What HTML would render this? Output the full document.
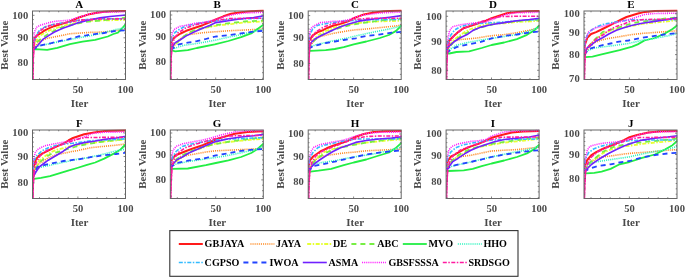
<!DOCTYPE html>
<html><head><meta charset="utf-8"><style>
html,body{margin:0;padding:0;background:#fff;width:685px;height:277px;overflow:hidden}
svg{display:block;filter:blur(0.45px)}
text{font-family:"Liberation Serif",serif;font-weight:bold}
.tl{font-size:10.6px;fill:#4a4a4a}
.lb{font-size:11px;fill:#4a4a4a}
.tt{font-size:11px;fill:#000}
.lg{font-size:10.1px;fill:#000}
</style></head><body>
<svg width="685" height="277" viewBox="0 0 685 277">
<defs>
<clipPath id="cpA"><rect x="32.5" y="9.5" width="93.5" height="70.0"/></clipPath>
<clipPath id="cpB"><rect x="170.3" y="9.5" width="93.5" height="70.0"/></clipPath>
<clipPath id="cpC"><rect x="308.2" y="9.5" width="93.5" height="70.0"/></clipPath>
<clipPath id="cpD"><rect x="446.1" y="9.5" width="93.5" height="70.0"/></clipPath>
<clipPath id="cpE"><rect x="584.0" y="9.5" width="93.5" height="70.0"/></clipPath>
<clipPath id="cpF"><rect x="32.5" y="128.5" width="93.5" height="70.0"/></clipPath>
<clipPath id="cpG"><rect x="170.3" y="128.5" width="93.5" height="70.0"/></clipPath>
<clipPath id="cpH"><rect x="308.2" y="128.5" width="93.5" height="70.0"/></clipPath>
<clipPath id="cpI"><rect x="446.1" y="128.5" width="93.5" height="70.0"/></clipPath>
<clipPath id="cpJ"><rect x="584.0" y="128.5" width="93.5" height="70.0"/></clipPath>
</defs>
<rect width="685" height="277" fill="#fff"/>
<g clip-path="url(#cpA)" fill="none" stroke-linejoin="round">
<polyline points="32.5,50.0 33.5,42.0 35.0,37.5 37.5,35.0 40.0,33.7 44.7,30.4 49.4,28.1 54.0,26.2 58.8,24.8 63.5,23.4 70.0,21.5 78.8,17.5 88.0,14.6 97.0,12.8 104.0,11.8 112.0,11.2 126.0,11.0" stroke="#ff1a1a" stroke-width="2.0"/>
<polyline points="32.5,50.0 35.0,47.0 39.2,41.5 42.9,40.0 46.4,38.5 54.0,37.0 63.5,35.1 70.0,33.7 78.0,33.2 90.0,32.4 104.0,32.0 116.0,30.5 126.0,29.3" stroke="#ff8c26" stroke-width="1.6" stroke-dasharray="1.1 1"/>
<polyline points="32.5,50.0 34.0,46.0 36.0,41.0 38.0,38.0 41.0,35.0 44.7,32.8 49.4,30.4 54.0,29.0 58.8,27.1 63.5,25.7 70.0,24.3 83.5,21.2 100.0,20.3 110.0,20.3 126.0,19.8" stroke="#e6ff33" stroke-width="1.8" stroke-dasharray="4 1.5 1.5 1.5"/>
<polyline points="32.5,50.0 34.0,47.0 37.0,42.0 42.0,38.0 50.0,33.0 60.0,28.0 70.0,25.0 85.0,22.0 100.0,20.5 115.0,19.0 126.0,17.5" stroke="#77ee44" stroke-width="1.8" stroke-dasharray="5 4"/>
<polyline points="32.5,50.0 35.0,49.2 47.2,49.9 57.3,47.9 69.9,44.1 82.5,41.6 95.2,39.8 107.8,36.5 113.4,34.0 117.9,32.7 121.0,29.5 126.0,23.9" stroke="#22ee44" stroke-width="1.8"/>
<polyline points="32.5,50.0 35.0,48.5 37.4,46.2 46.4,44.4 59.1,41.7 77.1,38.1 90.0,35.8 103.0,33.0 116.0,29.5 126.0,27.5" stroke="#33f5c0" stroke-width="1.6" stroke-dasharray="1.1 1"/>
<polyline points="32.5,50.0 33.5,45.0 34.3,41.5 36.4,35.0 40.0,29.5 44.7,27.1 49.4,25.3 54.0,24.3 58.8,23.4 63.5,22.9 70.0,22.0 80.0,20.0 100.0,18.6 126.0,18.8" stroke="#33bbff" stroke-width="1.6" stroke-dasharray="4 1.5 1.5 1.5"/>
<polyline points="32.5,50.0 35.6,48.0 41.0,45.3 50.0,43.5 59.1,41.2 68.1,39.4 78.0,36.5 86.2,35.4 90.6,34.6 104.0,33.0 116.0,30.8 126.0,30.2" stroke="#2244ff" stroke-width="1.8" stroke-dasharray="5 4"/>
<polyline points="32.5,50.0 33.2,49.0 37.5,45.8 42.8,39.4 49.4,35.1 54.0,32.3 58.8,30.0 63.5,28.1 70.0,25.7 78.8,22.6 88.0,20.3 100.0,17.9 110.0,16.5 126.0,15.0" stroke="#7020ff" stroke-width="1.6"/>
<polyline points="32.5,50.0 33.2,46.0 33.8,38.0 34.5,32.0 36.4,27.4 40.0,25.3 44.7,23.9 49.4,22.5 54.0,21.5 58.8,21.0 65.0,20.5 70.0,20.0 80.0,16.8 90.0,14.0 100.0,12.4 126.0,11.6" stroke="#ff22ff" stroke-width="1.6" stroke-dasharray="1.1 1"/>
<polyline points="32.8,80.0 33.2,60.0 34.0,45.0 36.0,37.0 40.0,31.0 45.0,27.5 50.0,25.5 60.0,23.5 70.0,22.0 80.0,20.2 100.0,19.0 126.0,18.8" stroke="#ff1aa0" stroke-width="1.6" stroke-dasharray="4 1.5 1.5 1.5"/>
<polyline points="32.8,80.0 33.2,60.0 34.0,45.0" stroke="#ff1aa0" stroke-width="1.6"/>
</g>
<rect x="32.5" y="11.0" width="93" height="68.5" fill="none" stroke="#666666" stroke-width="1"/>
<path d="M39.5,79.5v-1.3M39.5,11.0v1.3M49.1,79.5v-1.3M49.1,11.0v1.3M58.7,79.5v-1.3M58.7,11.0v1.3M68.3,79.5v-1.3M68.3,11.0v1.3M77.9,79.5v-2.0M77.9,11.0v2.0M87.5,79.5v-1.3M87.5,11.0v1.3M97.1,79.5v-1.3M97.1,11.0v1.3M106.7,79.5v-1.3M106.7,11.0v1.3M116.3,79.5v-1.3M116.3,11.0v1.3M32.5,74.0h1.3M125.5,74.0h-1.3M32.5,68.4h1.3M125.5,68.4h-1.3M32.5,63.0h2.0M125.5,63.0h-2.0M32.5,57.7h1.3M125.5,57.7h-1.3M32.5,52.6h1.3M125.5,52.6h-1.3M32.5,47.5h1.3M125.5,47.5h-1.3M32.5,42.6h1.3M125.5,42.6h-1.3M32.5,37.8h2.0M125.5,37.8h-2.0M32.5,33.1h1.3M125.5,33.1h-1.3M32.5,28.5h1.3M125.5,28.5h-1.3M32.5,24.0h1.3M125.5,24.0h-1.3M32.5,19.6h1.3M125.5,19.6h-1.3M32.5,15.3h2.0M125.5,15.3h-2.0" stroke="#666666" stroke-width="0.8" fill="none"/>
<text x="28.2" y="18.7" text-anchor="end" class="tl">100</text>
<text x="28.2" y="41.4" text-anchor="end" class="tl">90</text>
<text x="28.2" y="66.4" text-anchor="end" class="tl">80</text>
<text x="78.1" y="93.4" text-anchor="middle" class="tl">50</text>
<text x="125.5" y="93.4" text-anchor="middle" class="tl">100</text>
<text x="79.5" y="106.9" text-anchor="middle" class="lb">Iter</text>
<text transform="translate(7.800000000000001,45.2) rotate(-90)" x="0" y="0" text-anchor="middle" class="lb">Best Value</text>
<text x="79.3" y="7.7" text-anchor="middle" class="tt">A</text>
<g clip-path="url(#cpB)" fill="none" stroke-linejoin="round">
<polyline points="170.3,50.0 171.1,42.0 172.8,39.0 175.2,37.0 180.6,33.5 186.2,30.8 195.1,27.7 202.7,25.2 210.2,22.0 215.8,19.5 223.4,16.3 231.0,13.8 241.1,12.3 251.2,11.3 263.8,10.6" stroke="#ff1a1a" stroke-width="2.0"/>
<polyline points="170.3,50.0 174.8,45.0 179.8,39.0 184.2,36.3 188.8,34.6 196.8,33.5 202.7,32.7 214.8,31.8 228.4,30.8 241.1,30.2 253.7,29.6 263.8,29.0" stroke="#ff8c26" stroke-width="1.6" stroke-dasharray="1.1 1"/>
<polyline points="170.3,50.0 172.8,46.0 177.4,42.5 182.4,38.0 188.8,33.0 195.1,30.5 204.2,28.1 213.6,26.2 222.9,24.8 232.3,23.9 244.8,22.4 263.8,21.4" stroke="#e6ff33" stroke-width="1.8" stroke-dasharray="4 1.5 1.5 1.5"/>
<polyline points="170.3,50.0 172.8,46.5 177.4,42.0 182.4,37.5 188.8,32.5 195.1,30.0 204.2,27.6 213.6,25.6 222.9,24.0 232.3,22.8 244.8,21.4 263.8,20.5" stroke="#77ee44" stroke-width="1.8" stroke-dasharray="5 4"/>
<polyline points="170.3,50.0 175.2,51.3 187.8,50.2 196.8,48.0 214.8,44.4 228.4,41.0 241.1,37.2 251.2,33.4 257.5,29.0 263.8,24.5" stroke="#22ee44" stroke-width="1.8"/>
<polyline points="170.3,50.0 175.2,48.0 184.2,45.3 196.8,43.5 214.8,40.3 228.4,37.2 241.1,34.6 251.2,32.1 263.8,29.0" stroke="#33f5c0" stroke-width="1.6" stroke-dasharray="1.1 1"/>
<polyline points="170.3,50.0 171.7,39.0 174.8,32.7 179.9,29.0 186.2,25.8 195.1,23.9 202.7,22.6 215.8,21.0 229.8,19.5 244.8,18.8 263.8,18.2" stroke="#33bbff" stroke-width="1.6" stroke-dasharray="4 1.5 1.5 1.5"/>
<polyline points="170.3,50.0 173.4,48.0 178.8,44.4 187.8,42.6 196.8,41.2 205.9,39.0 215.8,36.5 228.4,35.3 241.1,33.4 253.7,31.5 263.8,30.8" stroke="#2244ff" stroke-width="1.8" stroke-dasharray="5 4"/>
<polyline points="170.3,50.0 171.6,48.0 175.2,42.6 179.9,40.0 186.2,35.9 195.1,31.5 202.7,28.3 210.2,25.2 215.8,22.6 228.4,20.7 241.1,18.8 253.7,17.6 263.8,15.7" stroke="#7020ff" stroke-width="1.6"/>
<polyline points="170.3,50.0 170.8,45.0 171.1,40.3 172.3,32.7 174.8,29.0 179.9,26.4 186.2,25.2 195.1,23.3 202.7,22.6 209.8,21.0 215.8,19.5 224.8,16.5 234.8,14.2 244.8,13.0 263.8,12.3" stroke="#ff22ff" stroke-width="1.6" stroke-dasharray="1.1 1"/>
<polyline points="170.6,80.0 171.0,60.0 171.8,47.0 173.8,40.0 177.8,33.0 185.8,28.0 194.8,25.0 204.8,22.5 215.8,20.5 229.8,18.6 244.8,18.3 263.8,18.2" stroke="#ff1aa0" stroke-width="1.6" stroke-dasharray="4 1.5 1.5 1.5"/>
<polyline points="170.6,80.0 171.0,60.0 171.8,47.0" stroke="#ff1aa0" stroke-width="1.6"/>
</g>
<rect x="170.3" y="11.0" width="93" height="68.5" fill="none" stroke="#666666" stroke-width="1"/>
<path d="M177.3,79.5v-1.3M177.3,11.0v1.3M186.9,79.5v-1.3M186.9,11.0v1.3M196.5,79.5v-1.3M196.5,11.0v1.3M206.1,79.5v-1.3M206.1,11.0v1.3M215.7,79.5v-2.0M215.7,11.0v2.0M225.3,79.5v-1.3M225.3,11.0v1.3M234.9,79.5v-1.3M234.9,11.0v1.3M244.5,79.5v-1.3M244.5,11.0v1.3M254.1,79.5v-1.3M254.1,11.0v1.3M170.3,78.3h1.3M263.3,78.3h-1.3M170.3,72.7h1.3M263.3,72.7h-1.3M170.3,67.2h1.3M263.3,67.2h-1.3M170.3,61.9h2.0M263.3,61.9h-2.0M170.3,56.7h1.3M263.3,56.7h-1.3M170.3,51.6h1.3M263.3,51.6h-1.3M170.3,46.7h1.3M263.3,46.7h-1.3M170.3,41.9h1.3M263.3,41.9h-1.3M170.3,37.1h2.0M263.3,37.1h-2.0M170.3,32.5h1.3M263.3,32.5h-1.3M170.3,28.0h1.3M263.3,28.0h-1.3M170.3,23.6h1.3M263.3,23.6h-1.3M170.3,19.2h1.3M263.3,19.2h-1.3M170.3,15.0h2.0M263.3,15.0h-2.0" stroke="#666666" stroke-width="0.8" fill="none"/>
<text x="166.0" y="18.4" text-anchor="end" class="tl">100</text>
<text x="166.0" y="40.2" text-anchor="end" class="tl">90</text>
<text x="166.0" y="65.3" text-anchor="end" class="tl">80</text>
<text x="215.9" y="93.4" text-anchor="middle" class="tl">50</text>
<text x="263.3" y="93.4" text-anchor="middle" class="tl">100</text>
<text x="217.3" y="106.9" text-anchor="middle" class="lb">Iter</text>
<text transform="translate(145.60000000000002,45.2) rotate(-90)" x="0" y="0" text-anchor="middle" class="lb">Best Value</text>
<text x="217.10000000000002" y="7.7" text-anchor="middle" class="tt">B</text>
<g clip-path="url(#cpC)" fill="none" stroke-linejoin="round">
<polyline points="308.2,49.0 309.0,41.0 312.7,35.3 317.8,32.1 322.9,30.2 327.9,27.7 333.0,25.8 340.6,23.9 348.1,21.4 353.7,18.2 363.8,14.4 373.9,12.5 384.0,11.3 401.7,10.6" stroke="#ff1a1a" stroke-width="2.0"/>
<polyline points="308.2,49.0 311.7,44.0 314.7,40.0 318.5,37.2 320.7,36.5 326.7,35.0 333.0,33.4 340.6,32.1 348.1,30.8 355.7,29.8 366.3,29.0 379.0,27.7 391.6,26.4 401.7,25.2" stroke="#ff8c26" stroke-width="1.6" stroke-dasharray="1.1 1"/>
<polyline points="308.2,49.0 309.7,46.0 312.7,40.3 317.8,35.3 324.1,31.5 333.0,28.3 340.6,25.8 348.1,24.5 355.7,23.3 366.3,22.0 379.0,21.4 401.7,20.7" stroke="#e6ff33" stroke-width="1.8" stroke-dasharray="4 1.5 1.5 1.5"/>
<polyline points="308.2,49.0 310.7,45.0 314.7,40.0 319.7,36.0 326.7,32.5 334.7,29.5 344.7,26.5 355.7,24.0 369.7,22.0 384.7,20.0 401.7,18.5" stroke="#77ee44" stroke-width="1.8" stroke-dasharray="5 4"/>
<polyline points="308.2,49.0 310.4,50.8 325.7,50.2 334.8,49.0 343.8,47.1 353.7,44.3 366.3,41.5 379.9,38.0 388.9,35.0 396.1,30.9 401.7,25.2" stroke="#22ee44" stroke-width="1.8"/>
<polyline points="308.2,49.0 311.3,46.5 316.7,44.5 325.7,42.5 334.7,40.5 344.7,38.5 355.7,36.0 366.3,33.6 379.0,31.0 391.6,28.5 401.7,25.8" stroke="#33f5c0" stroke-width="1.6" stroke-dasharray="1.1 1"/>
<polyline points="308.2,49.0 309.6,35.3 312.7,29.0 317.8,25.2 324.1,23.9 333.0,22.6 340.6,21.4 355.7,20.3 369.7,19.8 401.7,19.5" stroke="#33bbff" stroke-width="1.6" stroke-dasharray="4 1.5 1.5 1.5"/>
<polyline points="308.2,49.0 313.1,46.2 318.5,44.8 325.7,43.0 334.7,41.5 343.8,40.0 355.7,38.3 366.3,36.0 379.0,34.6 391.6,32.7 401.7,31.8" stroke="#2244ff" stroke-width="1.8" stroke-dasharray="5 4"/>
<polyline points="308.2,49.0 308.6,48.0 311.7,42.0 314.9,39.0 320.3,36.0 326.7,33.0 333.0,30.0 339.7,27.0 348.7,24.0 357.7,21.4 366.7,19.9 375.7,18.8 389.7,17.2 401.7,15.6" stroke="#7020ff" stroke-width="1.6"/>
<polyline points="308.2,49.0 309.2,40.0 310.2,30.2 312.2,27.0 315.3,25.2 320.3,22.6 326.7,22.0 333.0,21.4 341.7,21.0 349.7,19.5 355.7,17.0 363.7,15.0 379.7,13.0 401.7,12.0" stroke="#ff22ff" stroke-width="1.6" stroke-dasharray="1.1 1"/>
<polyline points="308.5,80.0 308.9,60.0 309.7,46.0 311.7,38.0 315.7,32.0 323.7,27.0 332.7,24.0 341.7,22.0 353.7,19.5 369.7,18.3 401.7,18.2" stroke="#ff1aa0" stroke-width="1.6" stroke-dasharray="4 1.5 1.5 1.5"/>
<polyline points="308.5,80.0 308.9,60.0 309.7,46.0" stroke="#ff1aa0" stroke-width="1.6"/>
</g>
<rect x="308.2" y="11.0" width="93" height="68.5" fill="none" stroke="#666666" stroke-width="1"/>
<path d="M315.2,79.5v-1.3M315.2,11.0v1.3M324.8,79.5v-1.3M324.8,11.0v1.3M334.4,79.5v-1.3M334.4,11.0v1.3M344.0,79.5v-1.3M344.0,11.0v1.3M353.6,79.5v-2.0M353.6,11.0v2.0M363.2,79.5v-1.3M363.2,11.0v1.3M372.8,79.5v-1.3M372.8,11.0v1.3M382.4,79.5v-1.3M382.4,11.0v1.3M392.0,79.5v-1.3M392.0,11.0v1.3M308.2,74.4h1.3M401.2,74.4h-1.3M308.2,68.9h1.3M401.2,68.9h-1.3M308.2,63.5h2.0M401.2,63.5h-2.0M308.2,58.2h1.3M401.2,58.2h-1.3M308.2,53.0h1.3M401.2,53.0h-1.3M308.2,47.9h1.3M401.2,47.9h-1.3M308.2,43.0h1.3M401.2,43.0h-1.3M308.2,38.2h2.0M401.2,38.2h-2.0M308.2,33.5h1.3M401.2,33.5h-1.3M308.2,28.9h1.3M401.2,28.9h-1.3M308.2,24.4h1.3M401.2,24.4h-1.3M308.2,19.9h1.3M401.2,19.9h-1.3M308.2,15.6h2.0M401.2,15.6h-2.0" stroke="#666666" stroke-width="0.8" fill="none"/>
<text x="303.9" y="19.0" text-anchor="end" class="tl">100</text>
<text x="303.9" y="41.4" text-anchor="end" class="tl">90</text>
<text x="303.9" y="66.9" text-anchor="end" class="tl">80</text>
<text x="353.8" y="93.4" text-anchor="middle" class="tl">50</text>
<text x="401.2" y="93.4" text-anchor="middle" class="tl">100</text>
<text x="355.2" y="106.9" text-anchor="middle" class="lb">Iter</text>
<text transform="translate(283.5,45.2) rotate(-90)" x="0" y="0" text-anchor="middle" class="lb">Best Value</text>
<text x="355.0" y="7.7" text-anchor="middle" class="tt">C</text>
<g clip-path="url(#cpD)" fill="none" stroke-linejoin="round">
<polyline points="446.1,53.0 446.6,45.0 449.4,40.3 453.2,36.5 458.2,32.1 463.3,28.3 470.9,25.8 478.5,23.3 486.0,20.7 491.6,18.2 499.2,15.7 506.8,13.2 516.9,11.9 527.0,11.3 539.6,11.0" stroke="#ff1a1a" stroke-width="2.0"/>
<polyline points="446.1,53.0 449.6,47.0 454.6,40.8 460.0,39.5 467.1,39.0 477.2,38.0 486.0,36.5 493.6,35.5 504.2,34.6 516.9,32.7 529.5,30.2 539.6,27.7" stroke="#ff8c26" stroke-width="1.6" stroke-dasharray="1.1 1"/>
<polyline points="446.1,53.0 448.6,47.0 453.2,40.3 458.2,36.5 464.6,32.1 470.9,29.0 478.5,26.4 486.0,24.5 493.6,23.3 504.2,23.3 516.9,22.0 529.5,21.4 539.6,20.7" stroke="#e6ff33" stroke-width="1.8" stroke-dasharray="4 1.5 1.5 1.5"/>
<polyline points="446.1,53.0 448.6,48.0 453.6,42.0 459.6,37.0 466.6,33.0 474.6,29.5 484.6,26.5 494.6,24.0 509.6,22.0 524.6,20.5 539.6,19.5" stroke="#77ee44" stroke-width="1.8" stroke-dasharray="5 4"/>
<polyline points="446.1,53.0 449.2,53.5 456.4,52.0 469.1,51.3 481.7,48.0 491.6,45.0 504.2,42.5 516.9,39.1 527.0,34.8 534.6,30.2 539.6,25.2" stroke="#22ee44" stroke-width="1.8"/>
<polyline points="446.1,53.0 449.2,49.9 456.4,45.3 467.3,42.6 481.7,39.9 499.8,37.2 517.8,34.5 529.5,31.0 539.6,27.0" stroke="#33f5c0" stroke-width="1.6" stroke-dasharray="1.1 1"/>
<polyline points="446.1,53.0 448.1,41.6 450.7,35.3 454.4,30.2 459.5,27.1 465.8,25.2 473.4,23.9 483.5,23.3 493.6,22.6 504.2,22.0 516.9,20.7 539.6,19.5" stroke="#33bbff" stroke-width="1.6" stroke-dasharray="4 1.5 1.5 1.5"/>
<polyline points="446.1,53.0 451.0,49.9 456.4,47.1 463.7,45.3 481.7,41.7 491.6,38.4 504.2,35.9 516.9,34.5 529.5,32.5 539.6,31.5" stroke="#2244ff" stroke-width="1.8" stroke-dasharray="5 4"/>
<polyline points="446.1,53.0 447.4,48.0 451.0,44.4 454.4,41.5 460.8,37.5 467.1,34.6 473.4,30.2 481.0,27.1 488.6,25.2 493.6,24.3 504.2,22.6 516.9,20.7 529.5,19.5 539.6,18.2" stroke="#7020ff" stroke-width="1.6"/>
<polyline points="446.1,53.0 447.5,40.3 449.4,31.5 451.9,27.1 455.7,25.8 462.0,24.5 470.9,23.3 478.5,22.6 486.0,22.0 491.6,20.0 498.6,17.0 506.6,14.2 516.6,12.8 539.6,12.2" stroke="#ff22ff" stroke-width="1.6" stroke-dasharray="1.1 1"/>
<polyline points="446.4,80.0 446.8,62.0 447.6,50.0 449.6,42.0 454.6,35.0 461.6,29.5 470.6,25.5 479.6,22.0 491.6,18.5 499.6,16.6 514.6,16.3 539.6,16.3" stroke="#ff1aa0" stroke-width="1.6" stroke-dasharray="4 1.5 1.5 1.5"/>
<polyline points="446.4,80.0 446.8,62.0 447.6,50.0" stroke="#ff1aa0" stroke-width="1.6"/>
</g>
<rect x="446.1" y="11.0" width="93" height="68.5" fill="none" stroke="#666666" stroke-width="1"/>
<path d="M453.1,79.5v-1.3M453.1,11.0v1.3M462.7,79.5v-1.3M462.7,11.0v1.3M472.3,79.5v-1.3M472.3,11.0v1.3M481.9,79.5v-1.3M481.9,11.0v1.3M491.5,79.5v-2.0M491.5,11.0v2.0M501.1,79.5v-1.3M501.1,11.0v1.3M510.7,79.5v-1.3M510.7,11.0v1.3M520.3,79.5v-1.3M520.3,11.0v1.3M529.9,79.5v-1.3M529.9,11.0v1.3M446.1,76.5h1.3M539.1,76.5h-1.3M446.1,70.3h2.0M539.1,70.3h-2.0M446.1,64.4h1.3M539.1,64.4h-1.3M446.1,58.5h1.3M539.1,58.5h-1.3M446.1,52.8h1.3M539.1,52.8h-1.3M446.1,47.3h1.3M539.1,47.3h-1.3M446.1,41.8h2.0M539.1,41.8h-2.0M446.1,36.5h1.3M539.1,36.5h-1.3M446.1,31.3h1.3M539.1,31.3h-1.3M446.1,26.2h1.3M539.1,26.2h-1.3M446.1,21.2h1.3M539.1,21.2h-1.3M446.1,16.3h2.0M539.1,16.3h-2.0" stroke="#666666" stroke-width="0.8" fill="none"/>
<text x="441.8" y="19.7" text-anchor="end" class="tl">100</text>
<text x="441.8" y="45.3" text-anchor="end" class="tl">90</text>
<text x="441.8" y="73.8" text-anchor="end" class="tl">80</text>
<text x="491.70000000000005" y="93.4" text-anchor="middle" class="tl">50</text>
<text x="539.1" y="93.4" text-anchor="middle" class="tl">100</text>
<text x="493.1" y="106.9" text-anchor="middle" class="lb">Iter</text>
<text transform="translate(421.40000000000003,45.2) rotate(-90)" x="0" y="0" text-anchor="middle" class="lb">Best Value</text>
<text x="492.90000000000003" y="7.7" text-anchor="middle" class="tt">D</text>
<g clip-path="url(#cpE)" fill="none" stroke-linejoin="round">
<polyline points="584.0,55.0 584.8,45.0 587.3,37.8 591.1,34.0 596.1,32.1 602.5,29.0 608.8,25.8 615.1,22.6 621.4,19.5 626.5,17.0 631.5,15.5 637.1,13.8 644.7,11.9 654.8,11.0 677.5,10.6" stroke="#ff1a1a" stroke-width="2.0"/>
<polyline points="584.0,55.0 589.5,47.0 594.3,42.6 601.6,39.9 608.8,38.4 616.4,37.2 623.9,35.9 631.5,34.6 642.1,33.4 654.8,32.5 667.4,31.5 677.5,30.8" stroke="#ff8c26" stroke-width="1.6" stroke-dasharray="1.1 1"/>
<polyline points="584.0,55.0 586.5,50.0 590.5,44.0 595.5,39.0 602.5,34.0 609.5,31.0 616.5,29.0 623.9,27.5 631.5,26.0 642.1,23.9 654.8,22.6 667.4,21.4 677.5,20.1" stroke="#e6ff33" stroke-width="1.8" stroke-dasharray="4 1.5 1.5 1.5"/>
<polyline points="584.0,55.0 586.5,49.0 591.5,43.0 596.5,38.0 602.5,32.1 608.8,30.2 616.4,28.3 623.9,25.8 631.5,23.5 642.1,21.4 654.8,20.1 667.4,18.2 677.5,17.6" stroke="#77ee44" stroke-width="1.8" stroke-dasharray="5 4"/>
<polyline points="584.0,56.0 585.3,57.1 592.5,56.7 601.6,54.4 619.6,50.2 632.2,46.6 637.7,44.4 644.5,40.5 654.8,38.0 664.9,33.5 672.5,29.0 677.5,25.2" stroke="#22ee44" stroke-width="1.8"/>
<polyline points="584.0,55.0 587.1,50.8 594.3,48.0 610.6,45.9 628.6,43.5 642.1,40.3 654.8,38.4 667.4,35.9 677.5,33.5" stroke="#33f5c0" stroke-width="1.6" stroke-dasharray="1.1 1"/>
<polyline points="584.0,55.0 584.8,42.9 587.3,35.3 591.1,30.2 596.1,27.1 602.5,24.5 608.8,23.3 616.4,22.0 623.9,20.7 631.5,19.8 649.5,19.8 677.5,19.8" stroke="#33bbff" stroke-width="1.6" stroke-dasharray="4 1.5 1.5 1.5"/>
<polyline points="584.0,55.0 588.9,49.0 597.9,46.2 610.6,43.5 618.9,41.6 628.6,40.5 642.1,37.8 654.8,35.9 667.4,34.0 677.5,33.2" stroke="#2244ff" stroke-width="1.8" stroke-dasharray="5 4"/>
<polyline points="584.0,55.0 587.1,48.0 592.5,44.0 596.1,41.0 602.5,37.8 608.8,34.0 616.4,30.2 623.9,27.7 631.5,25.5 642.1,23.3 654.8,21.4 667.4,19.5 677.5,17.6" stroke="#7020ff" stroke-width="1.6"/>
<polyline points="584.0,55.0 585.0,45.0 586.0,38.0 588.6,32.0 592.5,29.5 596.1,27.7 602.5,26.4 608.8,24.5 616.4,22.6 623.9,20.7 629.5,19.5 637.1,17.0 644.7,14.4 654.8,13.5 677.5,13.2" stroke="#ff22ff" stroke-width="1.6" stroke-dasharray="1.1 1"/>
<polyline points="584.3,80.0 584.7,62.0 585.5,52.0 587.5,48.0 589.8,45.0 596.1,39.0 602.5,35.3 608.8,30.2 616.4,26.4 623.9,23.9 631.5,21.0 644.5,19.5 677.5,19.0" stroke="#ff1aa0" stroke-width="1.6" stroke-dasharray="4 1.5 1.5 1.5"/>
<polyline points="584.3,80.0 584.7,62.0 585.5,52.0" stroke="#ff1aa0" stroke-width="1.6"/>
</g>
<rect x="584.0" y="11.0" width="93" height="68.5" fill="none" stroke="#666666" stroke-width="1"/>
<path d="M591.0,79.5v-1.3M591.0,11.0v1.3M600.6,79.5v-1.3M600.6,11.0v1.3M610.2,79.5v-1.3M610.2,11.0v1.3M619.8,79.5v-1.3M619.8,11.0v1.3M629.4,79.5v-2.0M629.4,11.0v2.0M639.0,79.5v-1.3M639.0,11.0v1.3M648.6,79.5v-1.3M648.6,11.0v1.3M658.2,79.5v-1.3M658.2,11.0v1.3M667.8,79.5v-1.3M667.8,11.0v1.3M584.0,73.9h1.3M677.0,73.9h-1.3M584.0,68.9h1.3M677.0,68.9h-1.3M584.0,64.0h1.3M677.0,64.0h-1.3M584.0,59.3h1.3M677.0,59.3h-1.3M584.0,54.6h2.0M677.0,54.6h-2.0M584.0,50.1h1.3M677.0,50.1h-1.3M584.0,45.7h1.3M677.0,45.7h-1.3M584.0,41.4h1.3M677.0,41.4h-1.3M584.0,37.2h1.3M677.0,37.2h-1.3M584.0,33.1h2.0M677.0,33.1h-2.0M584.0,29.1h1.3M677.0,29.1h-1.3M584.0,25.1h1.3M677.0,25.1h-1.3M584.0,21.3h1.3M677.0,21.3h-1.3M584.0,17.5h1.3M677.0,17.5h-1.3M584.0,13.8h2.0M677.0,13.8h-2.0" stroke="#666666" stroke-width="0.8" fill="none"/>
<text x="579.7" y="17.2" text-anchor="end" class="tl">100</text>
<text x="579.7" y="36.1" text-anchor="end" class="tl">90</text>
<text x="579.7" y="58.0" text-anchor="end" class="tl">80</text>
<text x="579.7" y="82.4" text-anchor="end" class="tl">70</text>
<text x="629.6" y="93.4" text-anchor="middle" class="tl">50</text>
<text x="677.0" y="93.4" text-anchor="middle" class="tl">100</text>
<text x="631.0" y="106.9" text-anchor="middle" class="lb">Iter</text>
<text transform="translate(559.3,45.2) rotate(-90)" x="0" y="0" text-anchor="middle" class="lb">Best Value</text>
<text x="630.8" y="7.7" text-anchor="middle" class="tt">E</text>
<g clip-path="url(#cpF)" fill="none" stroke-linejoin="round">
<polyline points="32.5,178.0 33.5,168.0 34.5,164.0 36.0,159.2 39.1,155.7 43.1,153.2 48.2,150.6 53.2,148.1 58.3,145.6 63.3,143.6 68.4,140.5 73.0,138.0 79.0,136.0 84.2,134.3 94.0,132.4 105.0,130.9 126.0,130.6" stroke="#ff1a1a" stroke-width="2.0"/>
<polyline points="32.5,178.0 36.0,168.0 39.2,163.0 42.0,162.0 48.0,158.0 57.0,154.5 65.0,153.0 72.0,151.5 78.0,150.5 90.6,147.7 103.3,146.4 115.9,145.2 126.0,143.9" stroke="#ff8c26" stroke-width="1.6" stroke-dasharray="1.1 1"/>
<polyline points="32.5,178.0 35.0,168.0 39.6,160.3 44.6,156.5 51.0,152.1 57.3,149.6 64.9,147.7 72.4,145.8 80.0,144.5 95.0,142.5 110.0,141.0 126.0,139.5" stroke="#e6ff33" stroke-width="1.8" stroke-dasharray="4 1.5 1.5 1.5"/>
<polyline points="32.5,178.0 35.0,170.0 40.0,162.0 46.0,157.0 53.0,153.0 60.0,151.5 68.0,149.0 76.0,146.5 85.0,144.5 100.0,142.0 115.0,140.0 126.0,138.5" stroke="#77ee44" stroke-width="1.8" stroke-dasharray="5 4"/>
<polyline points="32.5,179.0 33.8,178.8 41.0,177.9 50.0,176.1 59.1,173.4 68.1,170.7 77.1,168.0 86.2,165.2 95.2,162.5 104.2,158.6 113.3,153.9 120.6,149.5 126.0,144.0" stroke="#22ee44" stroke-width="1.8"/>
<polyline points="32.5,178.0 37.4,168.0 50.0,165.2 68.1,161.3 78.0,159.1 86.2,158.0 95.0,156.0 104.2,154.0 116.8,150.8 126.0,149.0" stroke="#33f5c0" stroke-width="1.6" stroke-dasharray="1.1 1"/>
<polyline points="32.5,178.0 33.9,160.3 37.1,155.3 42.1,150.8 48.4,147.7 57.3,145.2 64.9,143.9 72.4,143.3 78.0,142.6 90.6,140.7 103.3,140.1 126.0,138.8" stroke="#33bbff" stroke-width="1.6" stroke-dasharray="4 1.5 1.5 1.5"/>
<polyline points="32.5,178.0 37.4,167.0 48.4,164.1 63.6,161.0 80.0,159.1 90.6,157.2 103.3,155.3 115.9,154.0 126.0,152.7" stroke="#2244ff" stroke-width="1.8" stroke-dasharray="5 4"/>
<polyline points="32.5,178.0 35.6,172.5 39.2,167.0 43.1,164.0 48.2,160.2 53.2,157.2 58.3,154.2 63.3,151.2 68.4,147.6 74.5,145.0 84.2,142.6 94.0,141.2 105.0,139.2 115.9,138.0 126.0,136.3" stroke="#7020ff" stroke-width="1.6"/>
<polyline points="32.5,178.0 33.0,168.0 33.3,160.3 35.2,152.7 38.3,149.0 44.6,145.8 51.0,144.5 57.3,143.3 64.9,142.0 72.4,140.1 78.0,138.8 85.6,136.3 93.2,133.2 103.3,132.3 126.0,131.9" stroke="#ff22ff" stroke-width="1.6" stroke-dasharray="1.1 1"/>
<polyline points="32.8,199.0 33.2,185.0 34.0,172.0 36.0,163.0 40.0,156.0 46.0,151.0 55.0,147.0 65.0,143.5 75.0,140.0 85.0,137.5 126.0,137.3" stroke="#ff1aa0" stroke-width="1.6" stroke-dasharray="4 1.5 1.5 1.5"/>
<polyline points="32.8,199.0 33.2,185.0 34.0,172.0" stroke="#ff1aa0" stroke-width="1.6"/>
</g>
<rect x="32.5" y="130.0" width="93" height="68.5" fill="none" stroke="#666666" stroke-width="1"/>
<path d="M39.5,198.5v-1.3M39.5,130.0v1.3M49.1,198.5v-1.3M49.1,130.0v1.3M58.7,198.5v-1.3M58.7,130.0v1.3M68.3,198.5v-1.3M68.3,130.0v1.3M77.9,198.5v-2.0M77.9,130.0v2.0M87.5,198.5v-1.3M87.5,130.0v1.3M97.1,198.5v-1.3M97.1,130.0v1.3M106.7,198.5v-1.3M106.7,130.0v1.3M116.3,198.5v-1.3M116.3,130.0v1.3M32.5,194.2h1.3M125.5,194.2h-1.3M32.5,188.4h1.3M125.5,188.4h-1.3M32.5,182.8h2.0M125.5,182.8h-2.0M32.5,177.2h1.3M125.5,177.2h-1.3M32.5,171.9h1.3M125.5,171.9h-1.3M32.5,166.6h1.3M125.5,166.6h-1.3M32.5,161.5h1.3M125.5,161.5h-1.3M32.5,156.5h2.0M125.5,156.5h-2.0M32.5,151.6h1.3M125.5,151.6h-1.3M32.5,146.8h1.3M125.5,146.8h-1.3M32.5,142.1h1.3M125.5,142.1h-1.3M32.5,137.5h1.3M125.5,137.5h-1.3M32.5,133.0h2.0M125.5,133.0h-2.0" stroke="#666666" stroke-width="0.8" fill="none"/>
<text x="28.2" y="136.4" text-anchor="end" class="tl">100</text>
<text x="28.2" y="160.0" text-anchor="end" class="tl">90</text>
<text x="28.2" y="186.2" text-anchor="end" class="tl">80</text>
<text x="78.1" y="212.4" text-anchor="middle" class="tl">50</text>
<text x="125.5" y="212.4" text-anchor="middle" class="tl">100</text>
<text x="79.5" y="225.9" text-anchor="middle" class="lb">Iter</text>
<text transform="translate(7.800000000000001,164.2) rotate(-90)" x="0" y="0" text-anchor="middle" class="lb">Best Value</text>
<text x="79.3" y="126.7" text-anchor="middle" class="tt">F</text>
<g clip-path="url(#cpG)" fill="none" stroke-linejoin="round">
<polyline points="170.3,168.0 171.1,162.0 172.3,158.5 175.2,155.5 177.4,154.5 182.4,152.5 188.8,150.0 195.1,147.7 202.7,145.2 210.2,142.0 215.8,139.5 223.4,137.0 234.8,133.8 247.4,132.0 263.8,131.3" stroke="#ff1a1a" stroke-width="2.0"/>
<polyline points="170.3,168.0 174.8,162.0 180.6,156.5 182.4,156.5 188.8,155.0 195.1,154.0 205.9,152.0 215.8,150.8 228.4,150.2 241.1,149.6 253.7,149.0 263.8,148.3" stroke="#ff8c26" stroke-width="1.6" stroke-dasharray="1.1 1"/>
<polyline points="170.3,168.0 172.8,164.0 176.1,161.6 182.4,157.2 188.8,152.7 195.1,150.2 202.7,147.7 210.2,145.2 215.8,143.5 228.4,142.0 241.1,140.7 253.7,139.5 263.8,138.8" stroke="#e6ff33" stroke-width="1.8" stroke-dasharray="4 1.5 1.5 1.5"/>
<polyline points="170.3,168.0 172.8,163.0 176.8,159.0 182.8,155.0 189.8,151.5 197.8,148.5 206.8,146.0 215.8,144.0 229.8,141.5 244.8,139.5 263.8,137.5" stroke="#77ee44" stroke-width="1.8" stroke-dasharray="5 4"/>
<polyline points="170.3,169.0 172.5,168.9 187.8,168.5 205.9,165.2 215.8,163.0 228.4,160.3 241.1,157.0 251.2,153.0 257.5,149.0 263.8,143.3" stroke="#22ee44" stroke-width="1.8"/>
<polyline points="170.3,168.0 175.2,164.3 187.8,161.6 205.9,158.9 224.0,156.2 242.0,152.6 254.6,149.9 263.8,146.5" stroke="#33f5c0" stroke-width="1.6" stroke-dasharray="1.1 1"/>
<polyline points="170.3,168.0 172.3,157.8 176.1,151.5 182.4,146.4 188.8,144.5 195.1,143.3 202.7,142.0 210.2,140.7 217.8,139.8 228.4,139.2 241.1,138.6 263.8,137.6" stroke="#33bbff" stroke-width="1.6" stroke-dasharray="4 1.5 1.5 1.5"/>
<polyline points="170.3,168.0 175.2,163.4 187.8,160.7 205.9,158.0 215.8,155.3 228.4,153.4 241.1,150.8 253.7,149.6 263.8,149.0" stroke="#2244ff" stroke-width="1.8" stroke-dasharray="5 4"/>
<polyline points="170.3,168.0 171.6,165.2 174.9,162.0 177.0,159.8 182.4,157.0 188.8,153.0 195.1,150.2 202.7,147.1 210.2,143.7 215.8,141.6 228.4,138.8 241.1,137.0 253.7,135.7 263.8,134.4" stroke="#7020ff" stroke-width="1.6"/>
<polyline points="170.3,168.0 170.8,164.0 171.1,159.1 173.0,150.2 176.1,146.4 182.4,143.9 188.8,142.6 195.1,141.4 202.7,140.1 210.2,138.2 215.8,136.5 223.4,134.4 234.8,131.9 247.4,131.0 263.8,130.6" stroke="#ff22ff" stroke-width="1.6" stroke-dasharray="1.1 1"/>
<polyline points="170.6,199.0 171.0,185.0 171.8,168.0 173.8,160.0 177.8,153.0 184.8,148.0 194.8,144.5 204.8,141.5 215.8,138.5 227.8,136.0 244.8,135.5 263.8,135.5" stroke="#ff1aa0" stroke-width="1.6" stroke-dasharray="4 1.5 1.5 1.5"/>
<polyline points="170.6,199.0 171.0,185.0 171.8,168.0" stroke="#ff1aa0" stroke-width="1.6"/>
</g>
<rect x="170.3" y="130.0" width="93" height="68.5" fill="none" stroke="#666666" stroke-width="1"/>
<path d="M177.3,198.5v-1.3M177.3,130.0v1.3M186.9,198.5v-1.3M186.9,130.0v1.3M196.5,198.5v-1.3M196.5,130.0v1.3M206.1,198.5v-1.3M206.1,130.0v1.3M215.7,198.5v-2.0M215.7,130.0v2.0M225.3,198.5v-1.3M225.3,130.0v1.3M234.9,198.5v-1.3M234.9,130.0v1.3M244.5,198.5v-1.3M244.5,130.0v1.3M254.1,198.5v-1.3M254.1,130.0v1.3M170.3,196.3h1.3M263.3,196.3h-1.3M170.3,190.7h1.3M263.3,190.7h-1.3M170.3,185.2h1.3M263.3,185.2h-1.3M170.3,179.9h2.0M263.3,179.9h-2.0M170.3,174.7h1.3M263.3,174.7h-1.3M170.3,169.6h1.3M263.3,169.6h-1.3M170.3,164.7h1.3M263.3,164.7h-1.3M170.3,159.9h1.3M263.3,159.9h-1.3M170.3,155.1h2.0M263.3,155.1h-2.0M170.3,150.5h1.3M263.3,150.5h-1.3M170.3,146.0h1.3M263.3,146.0h-1.3M170.3,141.6h1.3M263.3,141.6h-1.3M170.3,137.2h1.3M263.3,137.2h-1.3M170.3,133.0h2.0M263.3,133.0h-2.0" stroke="#666666" stroke-width="0.8" fill="none"/>
<text x="166.0" y="136.4" text-anchor="end" class="tl">100</text>
<text x="166.0" y="158.2" text-anchor="end" class="tl">90</text>
<text x="166.0" y="183.3" text-anchor="end" class="tl">80</text>
<text x="215.9" y="212.4" text-anchor="middle" class="tl">50</text>
<text x="263.3" y="212.4" text-anchor="middle" class="tl">100</text>
<text x="217.3" y="225.9" text-anchor="middle" class="lb">Iter</text>
<text transform="translate(145.60000000000002,164.2) rotate(-90)" x="0" y="0" text-anchor="middle" class="lb">Best Value</text>
<text x="217.10000000000002" y="126.7" text-anchor="middle" class="tt">G</text>
<g clip-path="url(#cpH)" fill="none" stroke-linejoin="round">
<polyline points="308.2,172.0 309.0,164.0 310.2,160.0 313.1,156.5 315.3,155.0 320.3,151.5 326.7,148.3 333.0,145.8 340.6,143.3 348.1,140.7 353.7,137.5 363.8,134.0 373.9,132.0 385.3,131.3 401.7,131.0" stroke="#ff1a1a" stroke-width="2.0"/>
<polyline points="308.2,172.0 311.7,165.0 315.3,160.0 318.5,157.5 325.7,155.5 333.0,154.5 343.8,153.0 355.7,152.0 366.3,150.8 379.0,150.2 391.6,149.6 401.7,149.0" stroke="#ff8c26" stroke-width="1.6" stroke-dasharray="1.1 1"/>
<polyline points="308.2,172.0 309.7,167.0 312.8,161.6 317.8,157.2 324.1,152.1 333.0,149.0 340.6,147.1 348.1,145.2 355.7,144.0 366.3,142.6 379.0,141.4 391.6,140.1 401.7,139.5" stroke="#e6ff33" stroke-width="1.8" stroke-dasharray="4 1.5 1.5 1.5"/>
<polyline points="308.2,172.0 310.7,167.0 314.7,161.0 320.7,156.0 327.7,152.0 335.7,149.0 345.7,146.5 355.7,144.5 369.7,142.0 384.7,140.0 401.7,138.0" stroke="#77ee44" stroke-width="1.8" stroke-dasharray="5 4"/>
<polyline points="308.2,172.0 310.4,171.6 318.5,170.7 331.2,168.9 343.8,165.2 353.7,162.5 366.3,159.5 379.0,155.5 389.1,152.5 395.4,148.3 401.7,142.6" stroke="#22ee44" stroke-width="1.8"/>
<polyline points="308.2,172.0 313.1,164.3 322.1,162.5 334.8,160.7 352.8,157.1 370.9,154.4 388.9,150.8 401.7,147.0" stroke="#33f5c0" stroke-width="1.6" stroke-dasharray="1.1 1"/>
<polyline points="308.2,172.0 309.6,159.1 312.8,152.7 317.8,147.7 324.1,145.2 333.0,143.3 340.6,141.4 348.1,140.1 355.7,139.0 379.7,139.0 401.7,138.8" stroke="#33bbff" stroke-width="1.6" stroke-dasharray="4 1.5 1.5 1.5"/>
<polyline points="308.2,172.0 313.1,166.1 322.1,164.3 334.8,161.6 345.6,159.0 355.7,156.8 366.3,154.6 379.0,152.7 391.6,151.3 401.7,150.2" stroke="#2244ff" stroke-width="1.8" stroke-dasharray="5 4"/>
<polyline points="308.2,172.0 309.5,168.9 314.9,163.4 320.3,159.5 326.7,155.3 333.0,151.5 340.6,147.7 348.1,145.2 355.7,142.4 366.3,140.5 379.0,139.0 391.6,138.0 401.7,136.8" stroke="#7020ff" stroke-width="1.6"/>
<polyline points="308.2,172.0 308.7,165.0 309.0,160.3 310.9,151.5 314.0,147.1 320.3,144.5 326.7,143.3 333.0,142.0 340.6,140.7 348.1,138.8 355.7,136.0 365.7,133.5 379.7,132.3 401.7,132.0" stroke="#ff22ff" stroke-width="1.6" stroke-dasharray="1.1 1"/>
<polyline points="308.5,199.0 308.9,185.0 309.7,172.0 311.7,163.0 315.7,156.0 322.7,151.0 332.7,147.0 342.7,143.0 353.7,139.0 365.7,136.5 379.7,136.0 401.7,136.0" stroke="#ff1aa0" stroke-width="1.6" stroke-dasharray="4 1.5 1.5 1.5"/>
<polyline points="308.5,199.0 308.9,185.0 309.7,172.0" stroke="#ff1aa0" stroke-width="1.6"/>
</g>
<rect x="308.2" y="130.0" width="93" height="68.5" fill="none" stroke="#666666" stroke-width="1"/>
<path d="M315.2,198.5v-1.3M315.2,130.0v1.3M324.8,198.5v-1.3M324.8,130.0v1.3M334.4,198.5v-1.3M334.4,130.0v1.3M344.0,198.5v-1.3M344.0,130.0v1.3M353.6,198.5v-2.0M353.6,130.0v2.0M363.2,198.5v-1.3M363.2,130.0v1.3M372.8,198.5v-1.3M372.8,130.0v1.3M382.4,198.5v-1.3M382.4,130.0v1.3M392.0,198.5v-1.3M392.0,130.0v1.3M308.2,192.2h1.3M401.2,192.2h-1.3M308.2,186.7h1.3M401.2,186.7h-1.3M308.2,181.3h2.0M401.2,181.3h-2.0M308.2,176.1h1.3M401.2,176.1h-1.3M308.2,171.0h1.3M401.2,171.0h-1.3M308.2,166.0h1.3M401.2,166.0h-1.3M308.2,161.1h1.3M401.2,161.1h-1.3M308.2,156.3h2.0M401.2,156.3h-2.0M308.2,151.7h1.3M401.2,151.7h-1.3M308.2,147.1h1.3M401.2,147.1h-1.3M308.2,142.7h1.3M401.2,142.7h-1.3M308.2,138.3h1.3M401.2,138.3h-1.3M308.2,134.0h2.0M401.2,134.0h-2.0" stroke="#666666" stroke-width="0.8" fill="none"/>
<text x="303.9" y="137.4" text-anchor="end" class="tl">100</text>
<text x="303.9" y="159.5" text-anchor="end" class="tl">90</text>
<text x="303.9" y="184.7" text-anchor="end" class="tl">80</text>
<text x="353.8" y="212.4" text-anchor="middle" class="tl">50</text>
<text x="401.2" y="212.4" text-anchor="middle" class="tl">100</text>
<text x="355.2" y="225.9" text-anchor="middle" class="lb">Iter</text>
<text transform="translate(283.5,164.2) rotate(-90)" x="0" y="0" text-anchor="middle" class="lb">Best Value</text>
<text x="355.0" y="126.7" text-anchor="middle" class="tt">H</text>
<g clip-path="url(#cpI)" fill="none" stroke-linejoin="round">
<polyline points="446.1,170.0 447.1,163.0 448.1,160.3 451.0,156.5 453.2,155.5 458.2,152.7 464.6,149.0 470.9,146.4 478.5,143.9 486.0,140.7 491.6,137.8 501.7,135.0 511.8,132.5 523.2,131.5 539.6,131.0" stroke="#ff1a1a" stroke-width="2.0"/>
<polyline points="446.1,170.0 450.6,163.0 456.4,157.2 458.2,157.0 464.6,156.0 470.9,155.3 481.7,153.0 491.6,151.0 504.2,150.2 516.9,149.6 529.5,148.3 539.6,147.0" stroke="#ff8c26" stroke-width="1.6" stroke-dasharray="1.1 1"/>
<polyline points="446.1,170.0 448.6,165.0 451.9,161.6 458.2,156.5 464.6,152.7 470.9,149.6 478.5,147.1 486.0,145.8 493.6,144.5 504.2,142.6 516.9,141.4 529.5,140.1 539.6,138.8" stroke="#e6ff33" stroke-width="1.8" stroke-dasharray="4 1.5 1.5 1.5"/>
<polyline points="446.1,170.0 448.6,165.0 452.6,160.0 458.6,155.0 465.6,151.0 473.6,148.0 483.6,145.5 493.6,143.5 507.6,141.5 521.6,139.5 539.6,137.5" stroke="#77ee44" stroke-width="1.8" stroke-dasharray="5 4"/>
<polyline points="446.1,171.0 448.3,171.0 463.7,170.3 472.7,168.9 481.7,166.1 491.6,163.5 504.2,160.5 516.9,157.0 527.0,153.4 534.6,149.0 539.6,144.5" stroke="#22ee44" stroke-width="1.8"/>
<polyline points="446.1,170.0 449.2,167.0 456.4,165.2 472.7,161.6 490.7,157.1 504.2,154.2 516.9,151.7 526.8,150.0 539.6,146.4" stroke="#33f5c0" stroke-width="1.6" stroke-dasharray="1.1 1"/>
<polyline points="446.1,170.0 447.5,159.1 450.7,152.1 455.7,147.7 462.0,145.2 470.9,143.3 478.5,142.0 486.0,140.7 493.6,140.0 504.2,139.5 539.6,139.0" stroke="#33bbff" stroke-width="1.6" stroke-dasharray="4 1.5 1.5 1.5"/>
<polyline points="446.1,170.0 451.0,166.1 463.7,163.4 472.6,161.5 481.7,159.5 493.6,156.5 504.2,154.6 516.9,152.7 529.5,151.0 539.6,150.2" stroke="#2244ff" stroke-width="1.8" stroke-dasharray="5 4"/>
<polyline points="446.1,170.0 447.4,168.9 452.8,161.6 458.2,158.2 464.6,153.8 470.9,150.2 478.5,147.1 486.0,144.5 493.6,142.0 504.2,139.5 516.9,138.2 529.5,137.0 539.6,135.0" stroke="#7020ff" stroke-width="1.6"/>
<polyline points="446.1,170.0 446.6,165.0 446.9,159.1 448.8,150.2 451.9,146.4 458.2,143.9 464.6,142.6 470.9,141.4 478.5,140.7 486.0,139.5 491.6,136.0 504.2,132.0 516.9,131.0 539.6,130.6" stroke="#ff22ff" stroke-width="1.6" stroke-dasharray="1.1 1"/>
<polyline points="446.4,199.0 446.8,185.0 447.6,170.0 449.6,162.0 453.6,155.0 460.6,150.0 469.6,146.5 479.6,143.0 491.6,139.5 501.6,137.2 539.6,137.0" stroke="#ff1aa0" stroke-width="1.6" stroke-dasharray="4 1.5 1.5 1.5"/>
<polyline points="446.4,199.0 446.8,185.0 447.6,170.0" stroke="#ff1aa0" stroke-width="1.6"/>
</g>
<rect x="446.1" y="130.0" width="93" height="68.5" fill="none" stroke="#666666" stroke-width="1"/>
<path d="M453.1,198.5v-1.3M453.1,130.0v1.3M462.7,198.5v-1.3M462.7,130.0v1.3M472.3,198.5v-1.3M472.3,130.0v1.3M481.9,198.5v-1.3M481.9,130.0v1.3M491.5,198.5v-2.0M491.5,130.0v2.0M501.1,198.5v-1.3M501.1,130.0v1.3M510.7,198.5v-1.3M510.7,130.0v1.3M520.3,198.5v-1.3M520.3,130.0v1.3M529.9,198.5v-1.3M529.9,130.0v1.3M446.1,197.6h1.3M539.1,197.6h-1.3M446.1,191.9h1.3M539.1,191.9h-1.3M446.1,186.4h1.3M539.1,186.4h-1.3M446.1,181.1h2.0M539.1,181.1h-2.0M446.1,175.9h1.3M539.1,175.9h-1.3M446.1,170.8h1.3M539.1,170.8h-1.3M446.1,165.8h1.3M539.1,165.8h-1.3M446.1,161.0h1.3M539.1,161.0h-1.3M446.1,156.2h2.0M539.1,156.2h-2.0M446.1,151.6h1.3M539.1,151.6h-1.3M446.1,147.1h1.3M539.1,147.1h-1.3M446.1,142.6h1.3M539.1,142.6h-1.3M446.1,138.3h1.3M539.1,138.3h-1.3M446.1,134.0h2.0M539.1,134.0h-2.0" stroke="#666666" stroke-width="0.8" fill="none"/>
<text x="441.8" y="137.4" text-anchor="end" class="tl">100</text>
<text x="441.8" y="159.4" text-anchor="end" class="tl">90</text>
<text x="441.8" y="184.5" text-anchor="end" class="tl">80</text>
<text x="491.70000000000005" y="212.4" text-anchor="middle" class="tl">50</text>
<text x="539.1" y="212.4" text-anchor="middle" class="tl">100</text>
<text x="493.1" y="225.9" text-anchor="middle" class="lb">Iter</text>
<text transform="translate(421.40000000000003,164.2) rotate(-90)" x="0" y="0" text-anchor="middle" class="lb">Best Value</text>
<text x="492.90000000000003" y="126.7" text-anchor="middle" class="tt">I</text>
<g clip-path="url(#cpJ)" fill="none" stroke-linejoin="round">
<polyline points="584.0,172.0 585.5,164.0 587.3,160.0 591.1,155.3 596.1,152.1 602.5,149.0 608.8,146.4 616.4,143.3 623.9,140.1 629.5,137.2 637.1,135.0 648.5,132.5 661.1,131.3 677.5,131.0" stroke="#ff1a1a" stroke-width="2.0"/>
<polyline points="584.0,172.0 589.5,165.0 594.5,160.0 597.9,157.5 602.5,157.0 610.6,156.0 623.9,154.0 631.5,153.2 642.1,152.5 654.8,151.5 667.4,150.2 677.5,149.6" stroke="#ff8c26" stroke-width="1.6" stroke-dasharray="1.1 1"/>
<polyline points="584.0,172.0 586.5,167.0 591.1,161.6 596.1,157.8 602.5,153.4 608.8,150.2 616.4,147.7 623.9,146.4 631.5,145.5 642.1,143.9 654.8,142.6 667.4,141.4 677.5,140.1" stroke="#e6ff33" stroke-width="1.8" stroke-dasharray="4 1.5 1.5 1.5"/>
<polyline points="584.0,172.0 586.5,167.0 590.5,162.0 595.5,158.0 602.5,152.0 608.8,149.0 615.5,146.0 621.5,145.2 631.5,143.5 644.5,142.0 659.5,140.5 677.5,138.5" stroke="#77ee44" stroke-width="1.8" stroke-dasharray="5 4"/>
<polyline points="584.0,173.0 586.2,173.4 594.3,172.8 601.6,171.6 610.6,168.9 619.6,164.3 629.5,162.0 642.1,157.8 654.8,154.5 664.9,149.5 672.5,145.2 677.5,140.7" stroke="#22ee44" stroke-width="1.8"/>
<polyline points="584.0,172.0 588.9,163.4 597.9,161.6 610.6,159.6 628.6,157.0 642.1,154.0 654.8,151.5 664.7,150.0 677.5,146.4" stroke="#33f5c0" stroke-width="1.6" stroke-dasharray="1.1 1"/>
<polyline points="584.0,172.0 585.4,159.1 588.6,152.7 593.6,149.0 599.9,146.4 608.8,144.5 616.4,142.6 623.9,141.4 631.5,140.5 649.5,140.0 677.5,140.0" stroke="#33bbff" stroke-width="1.6" stroke-dasharray="4 1.5 1.5 1.5"/>
<polyline points="584.0,172.0 588.9,168.9 597.9,166.1 610.6,164.3 619.6,162.5 629.5,161.0 642.1,157.5 654.8,155.0 667.4,153.5 677.5,152.7" stroke="#2244ff" stroke-width="1.8" stroke-dasharray="5 4"/>
<polyline points="584.0,172.0 585.3,170.7 590.7,165.2 596.1,161.2 602.5,157.0 608.5,153.5 616.4,149.5 623.9,146.0 631.5,143.3 642.1,140.1 654.8,138.2 667.4,137.0 677.5,135.7" stroke="#7020ff" stroke-width="1.6"/>
<polyline points="584.0,172.0 584.8,165.0 585.4,159.1 587.3,150.2 589.8,146.4 596.1,144.5 602.5,143.3 608.8,142.6 616.4,142.0 623.9,140.7 631.5,138.0 641.5,134.0 654.5,132.0 677.5,131.5" stroke="#ff22ff" stroke-width="1.6" stroke-dasharray="1.1 1"/>
<polyline points="584.3,199.0 584.7,185.0 585.5,172.0 587.5,164.0 591.5,157.0 597.5,152.0 605.5,148.0 615.5,144.5 627.5,140.0 639.5,137.5 677.5,137.3" stroke="#ff1aa0" stroke-width="1.6" stroke-dasharray="4 1.5 1.5 1.5"/>
<polyline points="584.3,199.0 584.7,185.0 585.5,172.0" stroke="#ff1aa0" stroke-width="1.6"/>
</g>
<rect x="584.0" y="130.0" width="93" height="68.5" fill="none" stroke="#666666" stroke-width="1"/>
<path d="M591.0,198.5v-1.3M591.0,130.0v1.3M600.6,198.5v-1.3M600.6,130.0v1.3M610.2,198.5v-1.3M610.2,130.0v1.3M619.8,198.5v-1.3M619.8,130.0v1.3M629.4,198.5v-2.0M629.4,130.0v2.0M639.0,198.5v-1.3M639.0,130.0v1.3M648.6,198.5v-1.3M648.6,130.0v1.3M658.2,198.5v-1.3M658.2,130.0v1.3M667.8,198.5v-1.3M667.8,130.0v1.3M584.0,194.2h1.3M677.0,194.2h-1.3M584.0,188.8h1.3M677.0,188.8h-1.3M584.0,183.5h1.3M677.0,183.5h-1.3M584.0,178.4h2.0M677.0,178.4h-2.0M584.0,173.4h1.3M677.0,173.4h-1.3M584.0,168.5h1.3M677.0,168.5h-1.3M584.0,163.8h1.3M677.0,163.8h-1.3M584.0,159.1h1.3M677.0,159.1h-1.3M584.0,154.5h2.0M677.0,154.5h-2.0M584.0,150.1h1.3M677.0,150.1h-1.3M584.0,145.7h1.3M677.0,145.7h-1.3M584.0,141.5h1.3M677.0,141.5h-1.3M584.0,137.3h1.3M677.0,137.3h-1.3M584.0,133.2h2.0M677.0,133.2h-2.0" stroke="#666666" stroke-width="0.8" fill="none"/>
<text x="579.7" y="136.6" text-anchor="end" class="tl">100</text>
<text x="579.7" y="158.1" text-anchor="end" class="tl">90</text>
<text x="579.7" y="181.8" text-anchor="end" class="tl">80</text>
<text x="629.6" y="212.4" text-anchor="middle" class="tl">50</text>
<text x="677.0" y="212.4" text-anchor="middle" class="tl">100</text>
<text x="631.0" y="225.9" text-anchor="middle" class="lb">Iter</text>
<text transform="translate(559.3,164.2) rotate(-90)" x="0" y="0" text-anchor="middle" class="lb">Best Value</text>
<text x="630.8" y="126.7" text-anchor="middle" class="tt">J</text>
<rect x="169.8" y="230.6" width="348.2" height="45.7" fill="#fff" stroke="#333" stroke-width="1.1"/>
<line x1="178.8" y1="244.0" x2="202.8" y2="244.0" stroke="#ff1a1a" stroke-width="2.0"/>
<text x="204.6" y="247.3" class="lg">GBJAYA</text>
<line x1="250.4" y1="244.0" x2="274.4" y2="244.0" stroke="#ff8c26" stroke-width="1.6" stroke-dasharray="1.1 1"/>
<text x="275.9" y="247.3" class="lg">JAYA</text>
<line x1="307.2" y1="244.0" x2="331.2" y2="244.0" stroke="#e6ff33" stroke-width="1.8" stroke-dasharray="4 1.5 1.5 1.5"/>
<text x="333.0" y="247.3" class="lg">DE</text>
<line x1="351.4" y1="244.0" x2="375.4" y2="244.0" stroke="#77ee44" stroke-width="1.8" stroke-dasharray="5 4"/>
<text x="377.2" y="247.3" class="lg">ABC</text>
<line x1="402.8" y1="244.0" x2="426.8" y2="244.0" stroke="#22ee44" stroke-width="1.8"/>
<text x="428.6" y="247.3" class="lg">MVO</text>
<line x1="457.8" y1="244.0" x2="481.8" y2="244.0" stroke="#33f5c0" stroke-width="1.6" stroke-dasharray="1.1 1"/>
<text x="483.4" y="247.3" class="lg">HHO</text>
<line x1="178.8" y1="262.5" x2="202.8" y2="262.5" stroke="#33bbff" stroke-width="1.6" stroke-dasharray="4 1.5 1.5 1.5"/>
<text x="204.6" y="266.0" class="lg">CGPSO</text>
<line x1="243.4" y1="262.5" x2="267.4" y2="262.5" stroke="#2244ff" stroke-width="1.8" stroke-dasharray="5 4"/>
<text x="269.4" y="266.0" class="lg">IWOA</text>
<line x1="302.8" y1="262.5" x2="326.8" y2="262.5" stroke="#7020ff" stroke-width="1.6"/>
<text x="328.5" y="266.0" class="lg">ASMA</text>
<line x1="362.0" y1="262.5" x2="386.0" y2="262.5" stroke="#ff22ff" stroke-width="1.6" stroke-dasharray="1.1 1"/>
<text x="388.4" y="266.0" class="lg">GBSFSSSA</text>
<line x1="442.8" y1="262.5" x2="466.8" y2="262.5" stroke="#ff1aa0" stroke-width="1.6" stroke-dasharray="4 1.5 1.5 1.5"/>
<text x="468.4" y="266.0" class="lg">SRDSGO</text>
</svg>
</body></html>
